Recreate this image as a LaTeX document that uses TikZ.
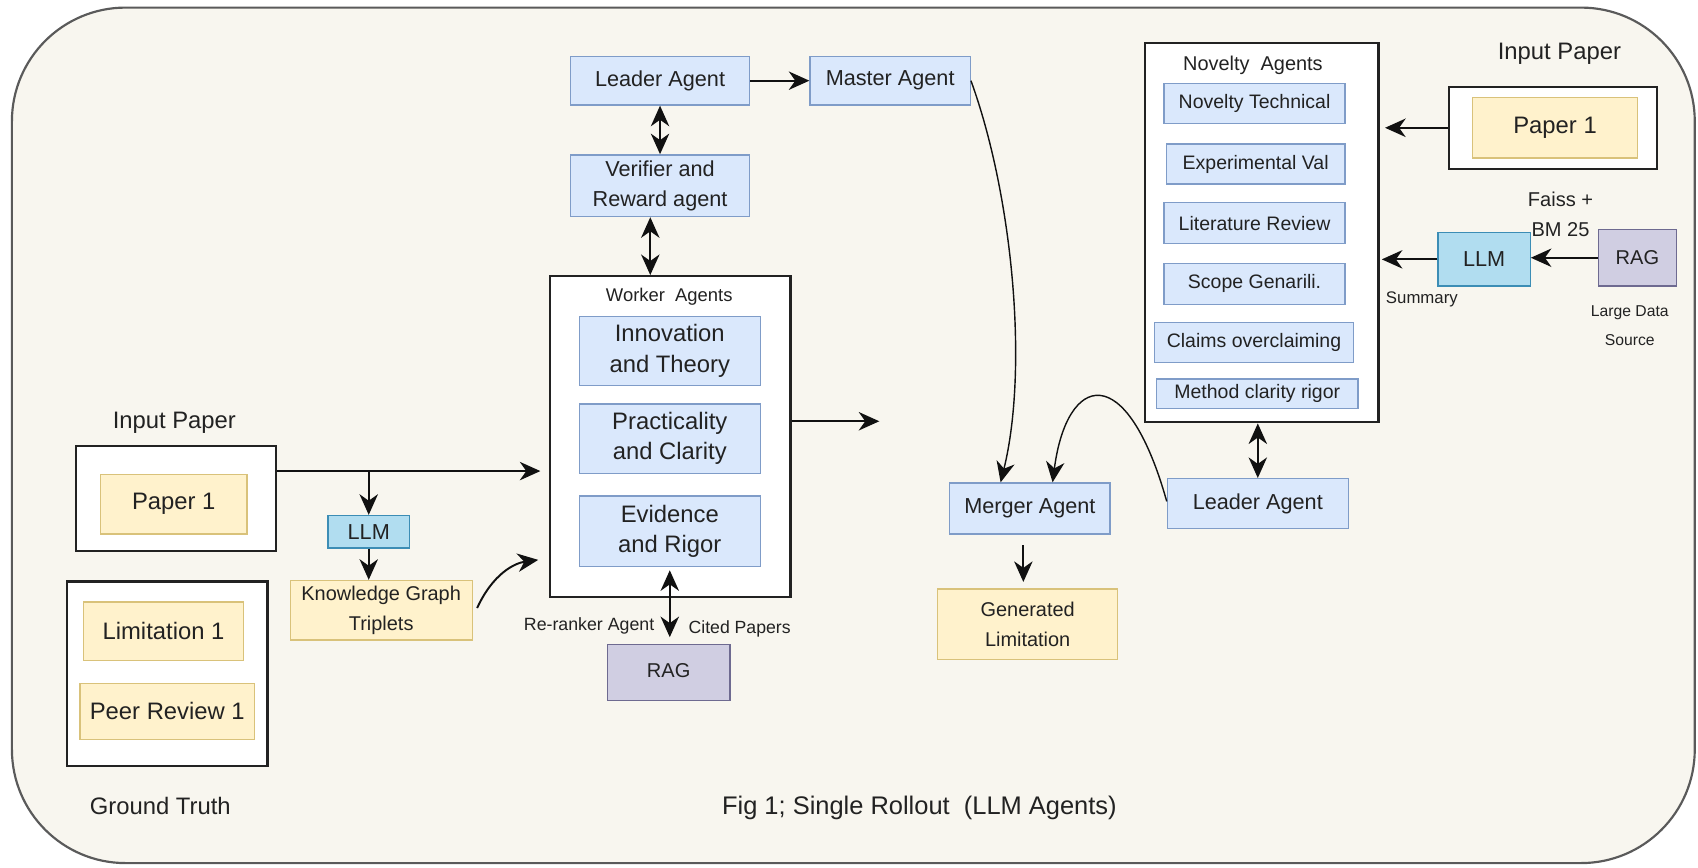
\documentclass[tikz,border=0pt]{standalone}
\usepackage{fontspec}
\setmainfont{Liberation Sans}
\usetikzlibrary{arrows.meta,calc}
\definecolor{bgc}{HTML}{F8F6EF}
\definecolor{outerd}{HTML}{5A5A5A}
\definecolor{txt}{HTML}{222222}
\definecolor{bluef}{HTML}{DAE8FC}
\definecolor{blued}{HTML}{7F9CC8}
\definecolor{yelf}{HTML}{FFF2CC}
\definecolor{yeld}{HTML}{D9C27A}
\definecolor{llmf}{HTML}{B1DDF0}
\definecolor{llmd}{HTML}{3C8DB5}
\definecolor{ragf}{HTML}{D0CEE2}
\definecolor{ragd}{HTML}{6E6A90}
\definecolor{contd}{HTML}{222222}
\definecolor{arrc}{HTML}{111111}
\newcommand\setfs[2]{\fontsize{#1}{#2}\selectfont}
\begin{document}
\begin{tikzpicture}[x=1pt,y=-1pt,
  agentbox/.style={draw, line width=1.2pt, inner sep=0pt, align=center, text=txt},
  bluenode/.style={agentbox, fill=bluef, draw=blued},
  yellownode/.style={agentbox, fill=yelf, draw=yeld},
  llmnode/.style={agentbox, fill=llmf, draw=llmd},
  ragnode/.style={agentbox, fill=ragf, draw=ragd},
  groupbox/.style={draw=contd, line width=2pt, fill=white, inner sep=0pt},
  lbl/.style={text=txt, inner sep=0pt, align=center},
  arrowone/.style={line width=1.8pt, draw=arrc, -{Stealth[length=19pt,width=17pt,inset=6pt]}},
  darrow/.style={line width=1.8pt, draw=arrc, {Stealth[length=19pt,width=17pt,inset=6pt]}-{Stealth[length=19pt,width=17pt,inset=6pt]}},
]
\useasboundingbox (0,0) rectangle (1568,801);
\fill[white] (0,0) rectangle (1568,801);
\draw[draw=outerd, fill=bgc, line width=2pt, rounded corners=105pt] (11,7) rectangle (1565,797);

% containers
\node[groupbox, minimum width=222pt, minimum height=296pt] (worker) at (619,403) {};
\node[groupbox, minimum width=185pt, minimum height=97pt] (inpaper) at (162.5,460.5) {};
\node[groupbox, minimum width=185pt, minimum height=170pt] (gt) at (154.5,622) {};
\node[groupbox, minimum width=216pt, minimum height=350pt] (novelty) at (1165,215) {};
\node[groupbox, minimum width=192pt, minimum height=76pt] (inpaper2) at (1434,118) {};

% top column
\node[bluenode, minimum width=165pt, minimum height=45pt, font=\setfs{20}{28}] (leader1) at (609.5,74.5) {Leader Agent};
\node[bluenode, minimum width=148pt, minimum height=45pt, font=\setfs{20}{28}] (master) at (822,74.5) {Master Agent};
\node[bluenode, minimum width=165pt, minimum height=57pt, font=\setfs{20}{28}] (verifier) at (609.5,171.5) {Verifier and\\Reward agent};

% worker agents
\node[lbl, font=\setfs{17}{20}] (workertitle) at (618,274) {Worker\ \ Agents};
\node[bluenode, minimum width=167pt, minimum height=64pt, font=\setfs{22}{28}] (innov) at (618.5,324) {Innovation\\and Theory};
\node[bluenode, minimum width=167pt, minimum height=64pt, font=\setfs{22}{28}] (pract) at (618.5,405) {Practicality\\and Clarity};
\node[bluenode, minimum width=167pt, minimum height=65pt, font=\setfs{22}{28}] (evid) at (618.5,490.5) {Evidence\\and Rigor};
\node[ragnode, minimum width=113pt, minimum height=52pt, font=\setfs{18.5}{22}] (rag1) at (617.5,621) {\raisebox{3pt}{RAG}};
\node[lbl, font=\setfs{16.4}{20}] (reranker) at (544,578) {Re-ranker Agent};
\node[lbl, font=\setfs{16.3}{20}] (cited) at (683,581) {Cited Papers};

% left side
\node[lbl, font=\setfs{22}{26}] (inlabel) at (161,390) {Input Paper};
\node[yellownode, minimum width=135pt, minimum height=55pt, font=\setfs{22}{26}] (paper1) at (160.5,465.5) {Paper 1};
\node[llmnode, minimum width=75pt, minimum height=30pt, font=\setfs{20}{24}] (llm1) at (340.5,491) {LLM};
\node[yellownode, minimum width=168pt, minimum height=55pt, font=\setfs{18.4}{27}] (kg) at (352,563.5) {Knowledge Graph\\Triplets};
\node[yellownode, minimum width=148pt, minimum height=54pt, font=\setfs{22}{26}] (lim1) at (151,583) {Limitation 1};
\node[yellownode, minimum width=161pt, minimum height=52pt, font=\setfs{22}{26}] (peer) at (154.5,657) {Peer Review 1};
\node[lbl, font=\setfs{22}{26}] (gtlabel) at (148,744) {Ground Truth};

% novelty agents
\node[lbl, font=\setfs{18.4}{22}] (novtitle) at (1157,60) {Novelty\ \ Agents};
\node[bluenode, minimum width=167pt, minimum height=37pt, font=\setfs{18}{22}] (nt) at (1158.5,95.5) {Novelty Technical};
\node[bluenode, minimum width=165pt, minimum height=37pt, font=\setfs{18}{22}] (ev) at (1159.5,151.5) {Experimental Val};
\node[bluenode, minimum width=167pt, minimum height=38pt, font=\setfs{18}{22}] (lr) at (1158.5,206) {Literature Review};
\node[bluenode, minimum width=167pt, minimum height=38pt, font=\setfs{18}{22}] (sg) at (1158.5,262) {Scope Genarili.};
\node[bluenode, minimum width=184pt, minimum height=37pt, font=\setfs{18}{22}] (co) at (1158,316.5) {Claims overclaiming};
\node[bluenode, minimum width=186pt, minimum height=27pt, font=\setfs{18}{22}] (mc) at (1161,363.5) {Method clarity rigor};

% right side
\node[lbl, font=\setfs{22}{26}] (inlabel2) at (1440,50) {Input Paper};
\node[yellownode, minimum width=152pt, minimum height=56pt, font=\setfs{22}{26}] (paper2) at (1436,118) {Paper 1};
\node[lbl, font=\setfs{18.5}{28}] (faiss) at (1441,198) {Faiss +\\BM 25};
\node[llmnode, minimum width=85pt, minimum height=49pt, font=\setfs{20}{24}] (llm2) at (1370.5,239.5) {LLM};
\node[ragnode, minimum width=72pt, minimum height=52pt, font=\setfs{18.5}{22}] (rag2) at (1512,238) {RAG};
\node[lbl, font=\setfs{15.5}{20}] (summary) at (1313,276) {Summary};
\node[lbl, font=\setfs{14.5}{27}] (large) at (1505,300.5) {Large Data\\Source};

\node[bluenode, minimum width=167pt, minimum height=46pt, font=\setfs{20}{24}] (leader2) at (1161.5,465) {Leader Agent};
\node[bluenode, minimum width=148pt, minimum height=47pt, font=\setfs{20}{24}] (merger) at (951,469.5) {Merger Agent};
\node[yellownode, minimum width=166pt, minimum height=65pt, font=\setfs{18.4}{28}] (genlim) at (949,576.5) {Generated\\Limitation};

\node[lbl, font=\setfs{23.5}{28}] (caption) at (849,746) {Fig 1; Single Rollout\ \ (LLM Agents)};

\coordinate (wfree) at (812,389);

% connectors
\draw[arrowone] (leader1.east) -- (master.west);
\draw[darrow] (leader1.south) -- (verifier.north);
\draw[darrow] ([xshift=-9pt]verifier.south) -- ([xshift=-9pt]verifier.south |- worker.north);
\draw[arrowone, shorten >=8pt] ([yshift=-24pt]inpaper.north east) -- ([yshift=-24pt]inpaper.north east -| worker.west);
\draw[arrowone] ([yshift=40pt]llm1.north) -- (llm1.north);
\draw[arrowone] (llm1.south) -- (llm1.south |- kg.north);
\draw[arrowone] ([xshift=4pt,yshift=2pt]kg.east) .. controls (455,530) and (475,520) .. ([xshift=-10pt,yshift=35pt]worker.south west);
\draw[arrowone] ([yshift=14pt]worker.east) -- (wfree);
\draw[darrow, shorten <=3pt, shorten >=6pt] (evid.south) -- (evid.south |- rag1.north);

\draw[darrow] (leader2.north |- novelty.south) -- (leader2.north);
\draw[arrowone, shorten >=5pt] (inpaper2.west) -- (inpaper2.west -| novelty.east);
\draw[arrowone] (rag2.west) -- (rag2.west -| llm2.east);
\draw[arrowone, shorten >=2pt] (llm2.west) -- (llm2.west -| novelty.east);

\draw[arrowone, line width=1.3pt] (master.east) .. controls (935,180) and (950,340) .. ([xshift=-27pt]merger.north);
\draw[arrowone, line width=1.3pt] ([yshift=2pt]leader2.west) .. controls (1040,330) and (985,345) .. ([xshift=21pt]merger.north);
\draw[arrowone] ([xshift=-6pt,yshift=-10pt]merger.south) -- ($([xshift=-6pt]merger.south |- genlim.north)+(0,-6)$);
\end{tikzpicture}
\end{document}
